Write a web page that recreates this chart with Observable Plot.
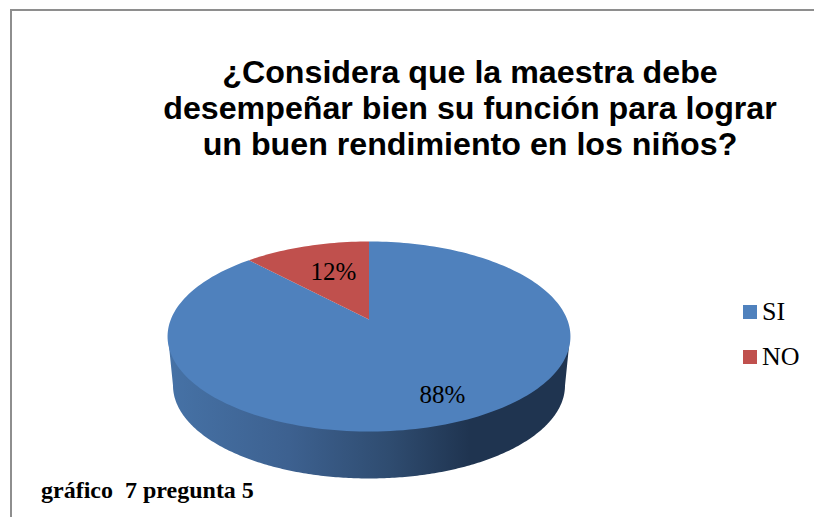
<!DOCTYPE html>
<html lang="es">
<head>
<meta charset="utf-8">
<script src="https://cdn.jsdelivr.net/npm/d3@7"></script>
<script src="https://cdn.jsdelivr.net/npm/@observablehq/plot@0.6"></script>
<style>
  html, body { margin: 0; padding: 0; background: #fff; }
  #page { position: relative; width: 814px; height: 517px; overflow: hidden; }
  #frame { position: absolute; left: 10px; top: 9px; width: 830px; height: 540px; border: 2px solid #8e8e8e; box-sizing: border-box; }
  #title { position: absolute; left: 120px; top: 54px; width: 700px; text-align: center; white-space: nowrap;
           font: bold 32.2px/36px "Liberation Sans", Arial, sans-serif; color: #000; }
  #caption { position: absolute; left: 41px; top: 476px; font: bold 24px/28px "Liberation Serif", serif; color: #000; white-space: pre; }
  .key { position: absolute; left: 743px; font: 26px/30px "Liberation Serif", serif; color: #000; }
  .key i { position: absolute; left: 0; top: 8px; width: 14px; height: 14px; }
  .key span { position: absolute; left: 19px; top: 0; }
  #chart { position: absolute; left: 0; top: 0; }
</style>
</head>
<body>
<div id="page">
  <div id="frame"></div>
  <div id="chart"></div>
  <div id="title">¿Considera que la maestra debe<br>desempeñar bien su función para lograr<br>un buen rendimiento en los niños?</div>
  <div id="caption">gráfico  7 pregunta 5</div>
  <div id="legend"></div>
</div>
<script>
const categories = ["SI", "NO"];
const shares = [88, 12];
const sliceColors = ["#4f81bd", "#c0504d"];
const labelTexts = ["88%", "12%"];
const sideStops = [[0, "#4672a6"], [0.3, "#3d6190"], [0.55, "#2f4c70"], [0.75, "#1f3450"], [1, "#1f3450"]];

// Perspective projection of the unit circle (u,v) into chart units (pixels from the pie's apex)
const tilt = 0.179, a = 198.2, b = 91.96;
const project = (u, v) => [a * u / (1 + tilt * v), -b * v / (1 + tilt * v)];
const steps = 240;

// SI runs clockwise from 12 o'clock, NO finishes the circle
const slices = [];
let acc = 0;
categories.forEach((name, i) => {
  const t0 = acc / 100 * 2 * Math.PI;
  acc += shares[i];
  const t1 = acc / 100 * 2 * Math.PI;
  slices.push({name, t0, t1});
});

const wedge = [];
slices.forEach(s => {
  wedge.push({name: s.name, p: [0, 0]});
  const n = Math.max(2, Math.ceil(steps * (s.t1 - s.t0) / (2 * Math.PI)));
  d3.range(n + 1).forEach(k => {
    const t = s.t0 + (s.t1 - s.t0) * k / n;
    wedge.push({name: s.name, p: project(Math.sin(t), Math.cos(t))});
  });
});

// Side wall: from the rim's extremes, down to a slightly smaller lower rim
const depth = 66, sideRx = 196, sideRy = 93, rimCy = 17, rimRx = 201;
const side = [{p: [-rimRx, rimCy]}];
d3.range(steps + 1).forEach(k => {
  const t = Math.PI * k / steps;
  side.push({p: [-sideRx * Math.cos(t), depth + sideRy * Math.sin(t)]});
});
side.push({p: [rimRx, rimCy]});

const labels = [
  {text: labelTexts[0], p: [73.5, 75]},
  {text: labelTexts[1], p: [-35.5, -48]}
];

const gradient = () => {
  const defs = d3.create("svg:defs");
  const g = defs.append("linearGradient").attr("id", "side").attr("x1", 0).attr("x2", 1).attr("y1", 0).attr("y2", 0);
  sideStops.forEach(([o, c]) => g.append("stop").attr("offset", o).attr("stop-color", c));
  return defs.node();
};

const plot = Plot.plot({
  width: 814, height: 517,
  margin: 0,
  axis: null,
  style: {background: "transparent"},
  x: {type: "linear", domain: [-368.5, 445.5], range: [0, 814]},
  y: {type: "linear", domain: [-319, 198], range: [0, 517]},
  color: {domain: categories, range: sliceColors},
  marks: [
    gradient,
    Plot.line(side, {x: d => d.p[0], y: d => d.p[1], fill: "url(#side)", stroke: "none", curve: "linear"}),
    Plot.line(wedge, {x: d => d.p[0], y: d => d.p[1], z: "name", fill: "name", stroke: "none", curve: "linear"}),
    Plot.text(labels, {x: d => d.p[0], y: d => d.p[1], text: "text", fill: "#000", fontSize: 25, fontFamily: "Liberation Serif", textAnchor: "middle", lineAnchor: "middle"})
  ]
});
document.getElementById("chart").append(plot);

const legend = document.getElementById("legend");
categories.forEach((name, i) => {
  const row = document.createElement("div");
  row.className = "key";
  row.style.top = (297 + i * 45) + "px";
  row.innerHTML = `<i style="background:${sliceColors[i]}"></i><span>${name}</span>`;
  legend.append(row);
});
</script>
</body>
</html>
